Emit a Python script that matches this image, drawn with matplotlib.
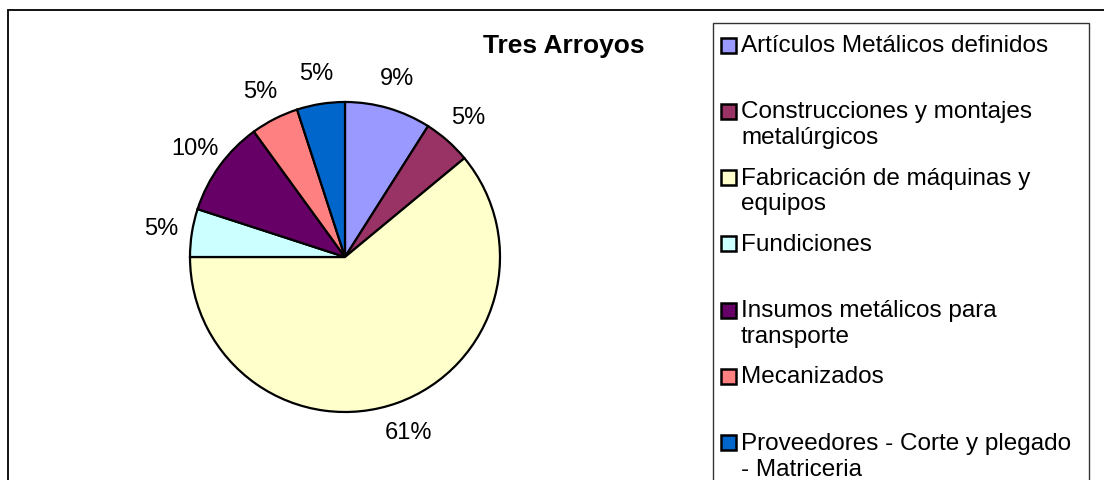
import matplotlib
matplotlib.use("Agg")
import matplotlib.pyplot as plt
from matplotlib.patches import Rectangle

plt.rcParams['font.family'] = ['Liberation Sans', 'DejaVu Sans']

title = "Tres Arroyos"
categories = [
    "Artículos Metálicos definidos",
    "Construcciones y montajes\nmetalúrgicos",
    "Fabricación de máquinas y\nequipos",
    "Fundiciones",
    "Insumos metálicos para\ntransporte",
    "Mecanizados",
    "Proveedores - Corte y plegado\n- Matriceria",
]
values = [9, 5, 61, 5, 10, 5, 5]
colors = ["#9999FF", "#993366", "#FFFFCC", "#CCFFFF", "#660066", "#FF8080", "#0066CC"]

W, H = 1104, 481
fig = plt.figure(figsize=(W / 100, H / 100), dpi=100)

def fx(px):
    return px / W

def fy(py):
    return 1 - py / H

# outer chart frame (extends past right/bottom edges)
fig.patches.append(Rectangle((fx(8), fy(560)), fx(1200) - fx(8), fy(11) - fy(560),
                             transform=fig.transFigure, fill=False,
                             edgecolor="black", linewidth=1.3))

# pie axes: center (345,258) px, radius 155 px
cx, cy, R = 345, 258, 155
half = 200
ax = fig.add_axes([fx(cx - half), fy(cy + half), 2 * half / W, 2 * half / H])
lim = half / R
ax.axis('off')

wedges, texts, autotexts = ax.pie(
    values, colors=colors, startangle=90, counterclock=False, radius=1,
    autopct=lambda p: f"{p:.0f}%", pctdistance=1.2,
    wedgeprops=dict(edgecolor="black", linewidth=1.6),
    textprops=dict(fontsize=17, color="black"),
)
ax.set_xlim(-lim, lim)
ax.set_ylim(-lim, lim)
ax.set_aspect('equal')

# title
fig.text(fx(645), fy(46), title, ha="right", va="center",
         fontsize=19, fontweight="bold")

# legend frame
fig.patches.append(Rectangle((fx(713), fy(560)), fx(1089) - fx(713), fy(24) - fy(560),
                             transform=fig.transFigure, fill=False,
                             edgecolor="#333333", linewidth=1.0))

# legend entries
y0, step, sq = 46, 66.3, 15
for i, (lab, col) in enumerate(zip(categories, colors)):
    y = y0 + i * step
    fig.patches.append(Rectangle((fx(721), fy(y + sq / 2)), sq / W, sq / H,
                                 transform=fig.transFigure, facecolor=col,
                                 edgecolor="black", linewidth=1.8))
    fig.text(fx(741), fy(y - 11), lab, ha="left", va="top",
             fontsize=17.5, linespacing=1.22)

fig.savefig("out.png", dpi=100)
